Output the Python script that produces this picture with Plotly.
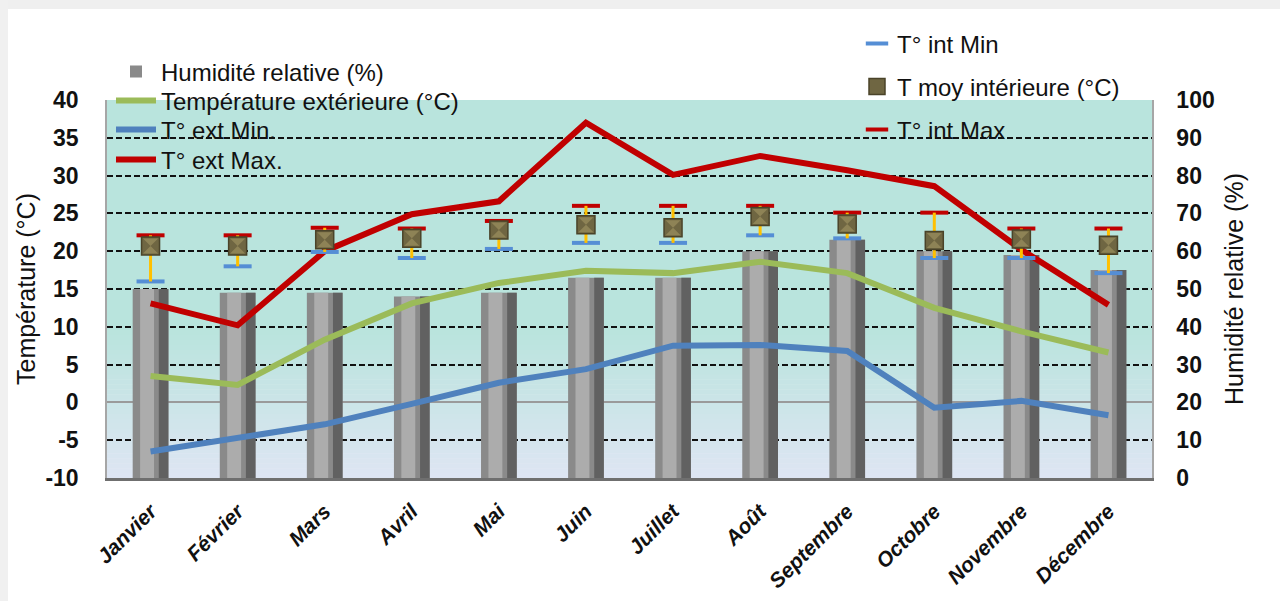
import plotly.graph_objects as go

# Monthly climate data
mois = ["Janvier", "Février", "Mars", "Avril", "Mai", "Juin",
        "Juillet", "Août", "Septembre", "Octobre", "Novembre", "Décembre"]
humidite = [50, 49, 49, 48, 49, 53, 53, 60, 63, 60, 59, 55]
temp_ext = [3.5, 2.3, 8.3, 13.1, 15.8, 17.4, 17.1, 18.6, 17.1, 12.5, 9.4, 6.6]
temp_ext_min = [-6.5, -4.6, -2.9, -0.2, 2.6, 4.4, 7.5, 7.6, 6.8, -0.7, 0.2, -1.7]
temp_ext_max = [13.1, 10.2, 20.0, 24.9, 26.6, 37.0, 30.1, 32.6, 30.7, 28.6, 20.2, 12.9]
temp_int_moy = [20.7, 20.7, 21.5, 21.7, 22.8, 23.5, 23.1, 24.6, 23.6, 21.4, 21.6, 20.8]
temp_int_min = [16.0, 18.0, 19.9, 19.1, 20.3, 21.1, 21.1, 22.1, 21.7, 19.1, 19.1, 17.1]
temp_int_max = [22.1, 22.1, 23.1, 23.0, 24.0, 26.0, 26.0, 26.0, 25.1, 25.1, 23.0, 23.0]

# Axis ticks (plain hyphen for negatives)
temp_ticks = [-10, -5, 0, 5, 10, 15, 20, 25, 30, 35, 40]
temp_ticktext = ["-10", "-5", "0", "5", "10", "15", "20", "25", "30", "35", "40"]
hum_ticks = [0, 10, 20, 30, 40, 50, 60, 70, 80, 90, 100]

FONT = "Liberation Sans"
W, H = 1280, 601
L, R, T, B = 107, 128, 100, 123
PW, PH = W - L - R, H - T - B


def px_x(x):
    return (x - L) / PW


def px_y(y):
    return (H - B - y) / PH


fig = go.Figure()

# Humidity columns, layered to give a rounded metallic look
fig.add_trace(go.Bar(x=mois, y=humidite, name="Humidité relative (%)",
                     offset=-0.205, width=0.41, marker=dict(color="#8a8a8a", line_width=0),
                     yaxis="y", legend="legend", hoverinfo="skip"))
fig.add_trace(go.Bar(x=mois, y=humidite, showlegend=False,
                     offset=-0.12, width=0.16, marker=dict(color="#acacac", line_width=0),
                     yaxis="y", hoverinfo="skip"))
fig.add_trace(go.Bar(x=mois, y=humidite, showlegend=False,
                     offset=0.095, width=0.11, marker=dict(color="#616161", line_width=0),
                     yaxis="y", hoverinfo="skip"))

# Outdoor temperatures
fig.add_trace(go.Scatter(x=mois, y=temp_ext, mode="lines", name="Température extérieure (°C)",
                         line=dict(color="#9bbb59", width=6), yaxis="y2", legend="legend2"))
fig.add_trace(go.Scatter(x=mois, y=temp_ext_min, mode="lines", name="T° ext Min.",
                         line=dict(color="#4f81bd", width=6), yaxis="y2", legend="legend3"))
fig.add_trace(go.Scatter(x=mois, y=temp_ext_max, mode="lines", name="T° ext Max.",
                         line=dict(color="#c00000", width=6), yaxis="y2", legend="legend4"))

# Indoor temperatures: min / max ticks joined by a range bar, mean on top
err_plus = [mx - m for mx, m in zip(temp_int_max, temp_int_moy)]
err_minus = [m - mn for m, mn in zip(temp_int_moy, temp_int_min)]
fig.add_trace(go.Scatter(x=mois, y=temp_int_min, mode="markers", name="T° int Min",
                         marker=dict(symbol="line-ew", size=20, line=dict(color="#558ed5", width=4)),
                         yaxis="y2", legend="legend5"))
fig.add_trace(go.Scatter(x=mois, y=temp_int_max, mode="markers", name="T° int Max",
                         marker=dict(symbol="line-ew", size=20, line=dict(color="#c00000", width=4)),
                         yaxis="y2", legend="legend7"))
fig.add_trace(go.Scatter(x=mois, y=temp_int_moy, mode="markers", name="T moy intérieure (°C)",
                         marker=dict(symbol="square", size=18, color="#6f6642",
                                     line=dict(color="#4a4329", width=1.5)),
                         error_y=dict(type="data", array=err_plus, arrayminus=err_minus,
                                      color="#ffc000", thickness=3, width=0),
                         yaxis="y2", legend="legend6"))
# lighter top/bottom facets of the pyramid-shaped mean marker
fig.add_trace(go.Scatter(x=mois, y=temp_int_moy, mode="markers", showlegend=False,
                         marker=dict(symbol="hourglass", size=15, color="#8e8356",
                                     line=dict(width=0)),
                         yaxis="y2", hoverinfo="skip"))

# Plot-area background: teal fading to pale lavender toward the bottom
shapes = []
top_rgb = (185, 228, 221)
bot_rgb = (222, 229, 243)
fade_start = 330
n = 30
shapes.append(dict(type="rect", xref="paper", yref="paper", x0=0, x1=1,
                   y0=px_y(fade_start), y1=1, fillcolor="rgb(%d,%d,%d)" % top_rgb,
                   line_width=0, layer="below"))
step = (H - B - fade_start) / n
for i in range(n):
    y0 = fade_start + i * step
    t = (i + 0.5) / n
    c = tuple(round(a + (b - a) * t) for a, b in zip(top_rgb, bot_rgb))
    shapes.append(dict(type="rect", xref="paper", yref="paper", x0=0, x1=1,
                       y0=px_y(y0 + step + 0.5), y1=px_y(y0), fillcolor="rgb(%d,%d,%d)" % c,
                       line_width=0, layer="below"))
# Soft grey frame strips at the top and left of the page
shapes.append(dict(type="rect", xref="paper", yref="paper", x0=px_x(0), x1=px_x(W),
                   y0=px_y(9), y1=px_y(0), fillcolor="#efefef", line_width=0, layer="below"))
shapes.append(dict(type="rect", xref="paper", yref="paper", x0=px_x(0), x1=px_x(8),
                   y0=px_y(H), y1=px_y(0), fillcolor="#f0f0f0", line_width=0, layer="below"))

leg_common = dict(xanchor="left", yanchor="middle", bgcolor="rgba(0,0,0,0)",
                  font=dict(family=FONT, size=24, color="#111111"), borderwidth=0)

legend_pos = {
    "legend": (111, 72, 40),
    "legend2": (111, 101, 40),
    "legend3": (111, 130, 40),
    "legend4": (111, 160, 40),
    "legend5": (857, 44, 30),
    "legend6": (857, 87, 30),
    "legend7": (857, 130, 30),
}
legends = {k: dict(x=px_x(x), y=px_y(y), itemwidth=iw, **leg_common)
           for k, (x, y, iw) in legend_pos.items()}

fig.update_layout(
    width=W, height=H,
    margin=dict(l=L, r=R, t=T, b=B, pad=0),
    paper_bgcolor="white",
    plot_bgcolor="rgba(0,0,0,0)",
    barmode="overlay",
    shapes=shapes,
    showlegend=True,
    font=dict(family=FONT, color="#111111"),
    xaxis=dict(type="category", range=[-0.5, 11.5], tickangle=-45, automargin=False,
               tickfont=dict(family=FONT, size=21, weight="bold", style="italic", color="#111111"),
               showline=True, linecolor="#6f6f6f", linewidth=2.5, showgrid=False,
               ticks="", ticklabelstandoff=10),
    yaxis=dict(side="right", range=[0, 100], tickvals=hum_ticks, showgrid=False, zeroline=False,
               showline=True, linecolor="#a6a6a6", linewidth=1.5, automargin=False,
               tickfont=dict(family=FONT, size=23, weight="bold", color="#111111"),
               ticks="", ticklabelstandoff=18,
               title=dict(text="Humidité relative (%)", standoff=12,
                          font=dict(family=FONT, size=25, color="#111111"))),
    yaxis2=dict(side="left", overlaying="y", range=[-10, 40], automargin=False,
                tickvals=temp_ticks, ticktext=temp_ticktext,
                showgrid=True, gridcolor="#111111", gridwidth=1.6, griddash="6px,3px",
                zeroline=True, zerolinecolor="#9a9a9a", zerolinewidth=1.5,
                showline=True, linecolor="#a6a6a6", linewidth=1.5,
                tickfont=dict(family=FONT, size=23, weight="bold", color="#111111"),
                ticks="", ticklabelstandoff=22,
                title=dict(text="Température (°C)", standoff=3,
                           font=dict(family=FONT, size=25, color="#111111"))),
    **legends,
)

fig.write_html("out.html")
